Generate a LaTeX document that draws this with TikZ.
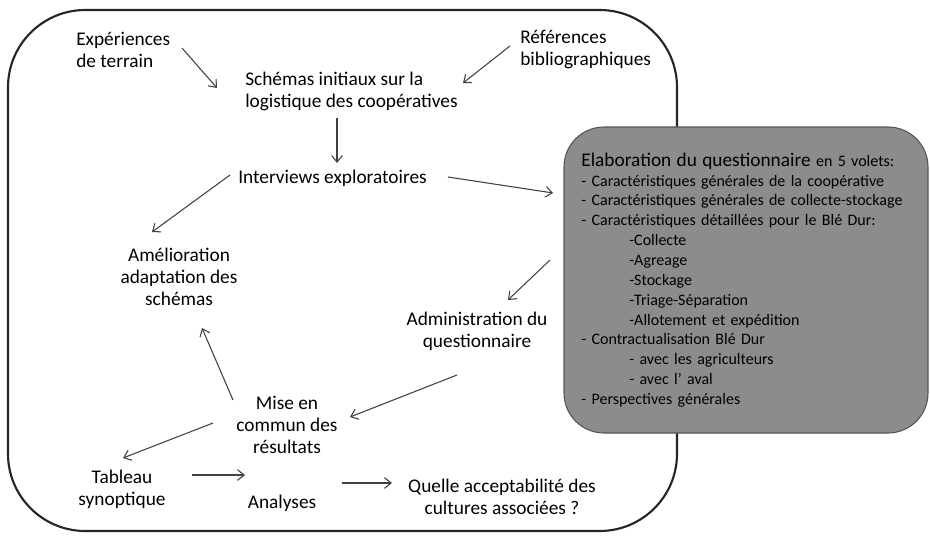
\documentclass[tikz,border=0pt]{standalone}
\usepackage{fontspec}
\setmainfont{Carlito}
\usepackage{tikz}
\usetikzlibrary{arrows.meta,%
                calc,shapes,positioning}
\definecolor{boxgrey}{RGB}{140,140,140}
\definecolor{boxline}{RGB}{85,85,85}
\definecolor{arrgrey}{RGB}{65,65,65}

\begin{document}
\begin{tikzpicture}[x=0.75pt,y=-0.75pt,
  txt/.style={inner sep=0pt,font=\fontsize{14.5}{16.5}\selectfont},
  arr/.style={draw=arrgrey,line width=0.8pt,-{Straight Barb[length=5pt,width=8pt,line width=0.8pt]}}]
\useasboundingbox (0,0) rectangle (930,535);
%outer frame
\draw[line width=1.6pt,draw=black!85,rounded corners=58pt] (8,10) rectangle (677,531);
\node[txt,anchor=west,align=left] (exp) at (76,50) {Expériences\\de terrain};
\node[txt,anchor=west,align=left] (ref) at (520,50) {Références\\bibliographiques};
\node[txt,anchor=west,align=left] (schemas) at (245,91) {Schémas initiaux sur la\\logistique des coopératives};
\node[txt,anchor=west] (interv) at (238,178) {Interviews exploratoires};
\node[txt,align=center] (amel) at (179,277) {Amélioration\\adaptation des\\schémas};
\node[txt,align=center] (admin) at (477,331) {Administration du\\questionnaire};
\node[txt,align=center] (mise) at (287,425) {Mise en\\commun des\\résultats};
\node[txt,align=center] (tab) at (122,489) {Tableau\\synoptique};
\node[txt] (ana) at (282,503) {Analyses};
\node[txt,align=center] (quelle) at (502,497) {Quelle acceptabilité des\\cultures associées ?};
%questionnaire box
\node[draw=boxline,fill=boxgrey,line width=0.8pt,rounded corners=30pt,
      minimum width=273pt,minimum height=229.5pt,inner xsep=13pt,
      text width=247pt,align=left,font=\fontsize{12}{14.9}\selectfont] (quest) at (746,280)
{{\fontsize{14.5}{14.9}\selectfont Elaboration du questionnaire} en 5 volets:\\
- Caractéristiques générales de la coopérative\\
- Caractéristiques générales de collecte-stockage\\
- Caractéristiques détaillées pour le Blé Dur:\\
\hspace*{36pt}-Collecte\\
\hspace*{36pt}-Agreage\\
\hspace*{36pt}-Stockage\\
\hspace*{36pt}-Triage-Séparation\\
\hspace*{36pt}-Allotement et expédition\\
- Contractualisation Blé Dur\\
\hspace*{36pt}- avec les agriculteurs\\
\hspace*{36pt}- avec l' aval\\
- Perspectives générales};
%arrows
\draw[arr] ($(exp.west)+(106,-2)$) -- ($(schemas.west)+(-28,-3)$);
\draw[arr] ($(ref.west)+(-10,-4)$) -- ($(schemas.west)+(218,-8)$);
\draw[arr] ($(schemas.west)+(92,27)$) -- ($(interv.west)+(99,-15)$);
\draw[arr] ($(interv.west)+(-8,-3)$) -- ($(amel)+(-27,-45)$);
\draw[arr] ($(interv.west)+(210,-1)$) -- ($(quest)+(-193,-87)$);
\draw[arr] ($(quest)+(-196,-20)$) -- ($(admin)+(31,-31)$);
\draw[arr] ($(admin)+(-20,44)$) -- ($(mise)+(63,-8)$);
\draw[arr] ($(mise)+(-54,-25)$) -- ($(amel)+(23,51)$);
\draw[arr] ($(mise)+(-74,-2)$) -- ($(tab)+(1,-31)$);
\draw[arr] ($(tab)+(70,-14)$) -- ($(ana)+(-37,-28)$);
\draw[arr] ($(ana)+(60,-20)$) -- ($(quelle)+(-110,-14)$);
\end{tikzpicture}
\end{document}
